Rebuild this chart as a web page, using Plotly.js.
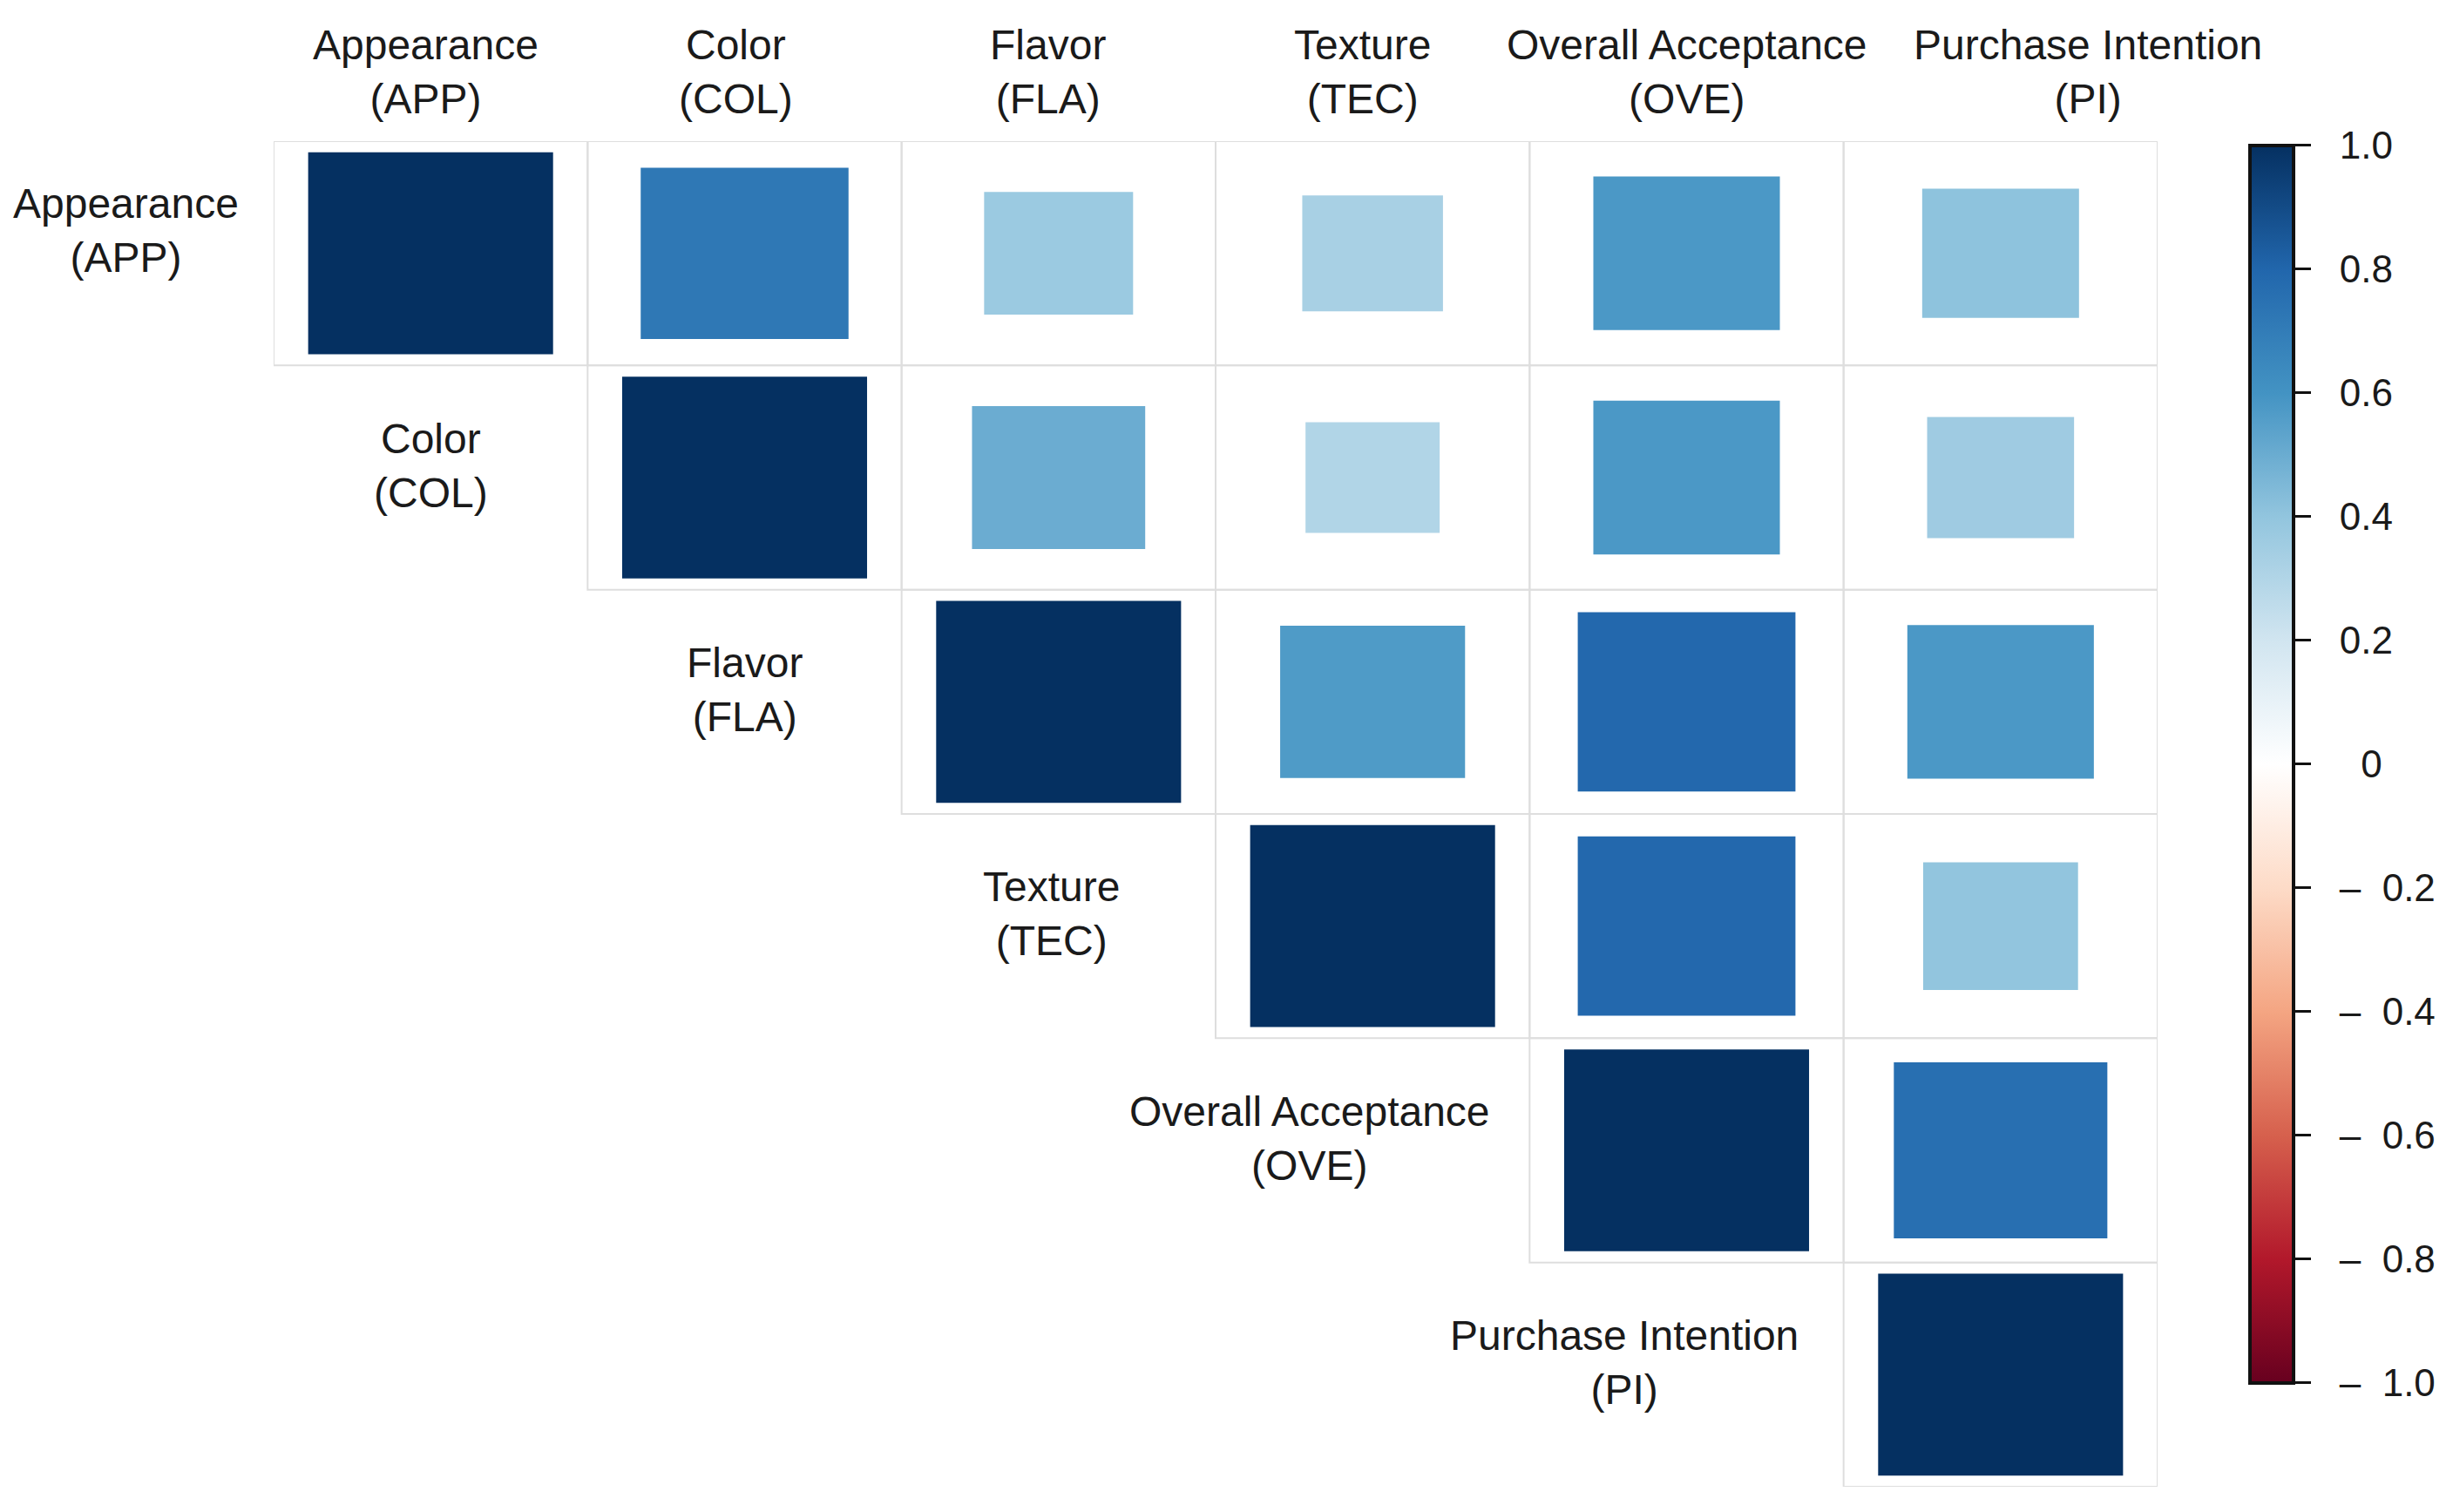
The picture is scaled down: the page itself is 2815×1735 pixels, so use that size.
<!DOCTYPE html>
<html>
<head>
<meta charset="utf-8">
<script src="https://cdn.plot.ly/plotly-3.0.1.min.js"></script>
<style>html,body{margin:0;padding:0;background:#fff;}#chart{width:2815px;height:1735px;}</style>
</head>
<body>
<div id="chart"></div>
<script>
// ---- data ----
const variables = ['Appearance<br>(APP)', 'Color<br>(COL)', 'Flavor<br>(FLA)', 'Texture<br>(TEC)', 'Overall Acceptance<br>(OVE)', 'Purchase Intention<br>(PI)'];
const rowAPP = [1.00, 0.72, 0.37, 0.33, 0.58, 0.41];
const rowCOL = [null, 1.00, 0.50, 0.30, 0.58, 0.36];
const rowFLA = [null, null, 1.00, 0.57, 0.79, 0.58];
const rowTEC = [null, null, null, 1.00, 0.79, 0.40];
const rowOVE = [null, null, null, null, 1.00, 0.76];
const rowPI  = [null, null, null, null, null, 1.00];
const corr = [rowAPP, rowCOL, rowFLA, rowTEC, rowOVE, rowPI];
const cbTickVals = [-1, -0.8, -0.6, -0.4, -0.2, 0, 0.2, 0.4, 0.6, 0.8, 1];
const cbTickLabels = ['\u2013\u00a0\u00a01.0', '\u2013\u00a0\u00a00.8', '\u2013\u00a0\u00a00.6', '\u2013\u00a0\u00a00.4', '\u2013\u00a0\u00a00.2', '\u00a0\u00a00', '0.2', '0.4', '0.6', '0.8', '1.0'];

// ---- styling ----
const FONT = "'Liberation Sans', Arial, Helvetica, sans-serif";
const TXT = '#1a1a1a';
const KW = 0.78, KH = 0.9; // fraction of cell for |r| = 1
const rdbu = [
  [0.0, '#67001F'], [0.1, '#B2182B'], [0.2, '#D6604D'], [0.3, '#F4A582'], [0.4, '#FDDBC7'],
  [0.5, '#FFFFFF'], [0.6, '#D1E5F0'], [0.7, '#92C5DE'], [0.8, '#4393C3'], [0.9, '#2166AC'], [1.0, '#053061']
];
const PAD = '\u00a0\u00a0';
const cbTickText = cbTickLabels.map(t => PAD + t);

const n = variables.length;
const bx = [], by = [], bbase = [], bw = [], bc = [], htxt = [];
const shapes = [];
for (let i = 0; i < n; i++) {
  for (let j = i; j < n; j++) {
    const r = corr[i][j];
    const s = Math.sqrt(Math.abs(r));
    const hw = 0.5 * KW * s, hh = 0.5 * KH * s;
    bx.push(j); bbase.push(i - hh); by.push(2 * hh); bw.push(2 * hw); bc.push(r);
    htxt.push(variables[i].replace('<br>', ' ') + ' / ' + variables[j].replace('<br>', ' ') + ': ' + r.toFixed(2));
    shapes.push({type: 'rect', xref: 'x', yref: 'y', x0: j - 0.5, x1: j + 0.5, y0: i - 0.5, y1: i + 0.5,
      line: {color: '#dedede', width: 2}, fillcolor: 'rgba(0,0,0,0)', layer: 'below'});
  }
}

const annotations = [];
// column labels on top
const colShift = [-6, -10, -12, -12, 0, 100];
variables.forEach((v, j) => {
  annotations.push({xref: 'x', yref: 'y', x: j, y: -0.5, text: v, showarrow: false,
    xanchor: 'center', yanchor: 'bottom', yshift: 20, xshift: colShift[j],
    font: {family: FONT, size: 48, color: TXT}});
});
// row labels along the diagonal
const rowShift = [0, 0, 0, -8, -72, -72];
variables.forEach((v, i) => {
  if (i === 0) {
    annotations.push({xref: 'x', yref: 'y', x: -0.5, y: 0, text: v, showarrow: false,
      xanchor: 'center', yanchor: 'middle', xshift: -170, yshift: 26,
      font: {family: FONT, size: 48, color: TXT}});
  } else {
    annotations.push({xref: 'x', yref: 'y', x: i - 1, y: i, text: v, showarrow: false,
      xanchor: 'center', yanchor: 'middle', xshift: rowShift[i], yshift: 14,
      font: {family: FONT, size: 48, color: TXT}});
  }
});

const trace = {
  type: 'bar', orientation: 'v', x: bx, y: by, base: bbase, width: bw,
  text: htxt, hoverinfo: 'text', textposition: 'none',
  marker: {
    color: bc, colorscale: rdbu, cmin: -1, cmax: 1, showscale: true,
    line: {width: 0},
    colorbar: {
      thicknessmode: 'pixels', thickness: 50, lenmode: 'pixels', len: 1420,
      x: 1.049, xanchor: 'left', xpad: 0, y: 0.537, yanchor: 'middle', ypad: 0,
      outlinewidth: 4, outlinecolor: '#111',
      tickmode: 'array', tickvals: cbTickVals, ticktext: cbTickText,
      ticks: 'outside', ticklen: 18, tickwidth: 3, tickcolor: '#111',
      tickfont: {family: FONT, size: 44, color: TXT}
    }
  }
};

const layout = {
  width: 2815, height: 1735,
  margin: {l: 314, r: 339, t: 162, b: 29},
  paper_bgcolor: '#ffffff', plot_bgcolor: '#ffffff',
  barmode: 'overlay', showlegend: false,
  xaxis: {range: [-0.5, n - 0.5], showgrid: false, zeroline: false, showticklabels: false, ticks: '', showline: false, fixedrange: true},
  yaxis: {range: [n - 0.5, -0.5], showgrid: false, zeroline: false, showticklabels: false, ticks: '', showline: false, fixedrange: true},
  shapes: shapes,
  annotations: annotations
};

Plotly.newPlot('chart', [trace], layout, {displayModeBar: false});
</script>
</body>
</html>
